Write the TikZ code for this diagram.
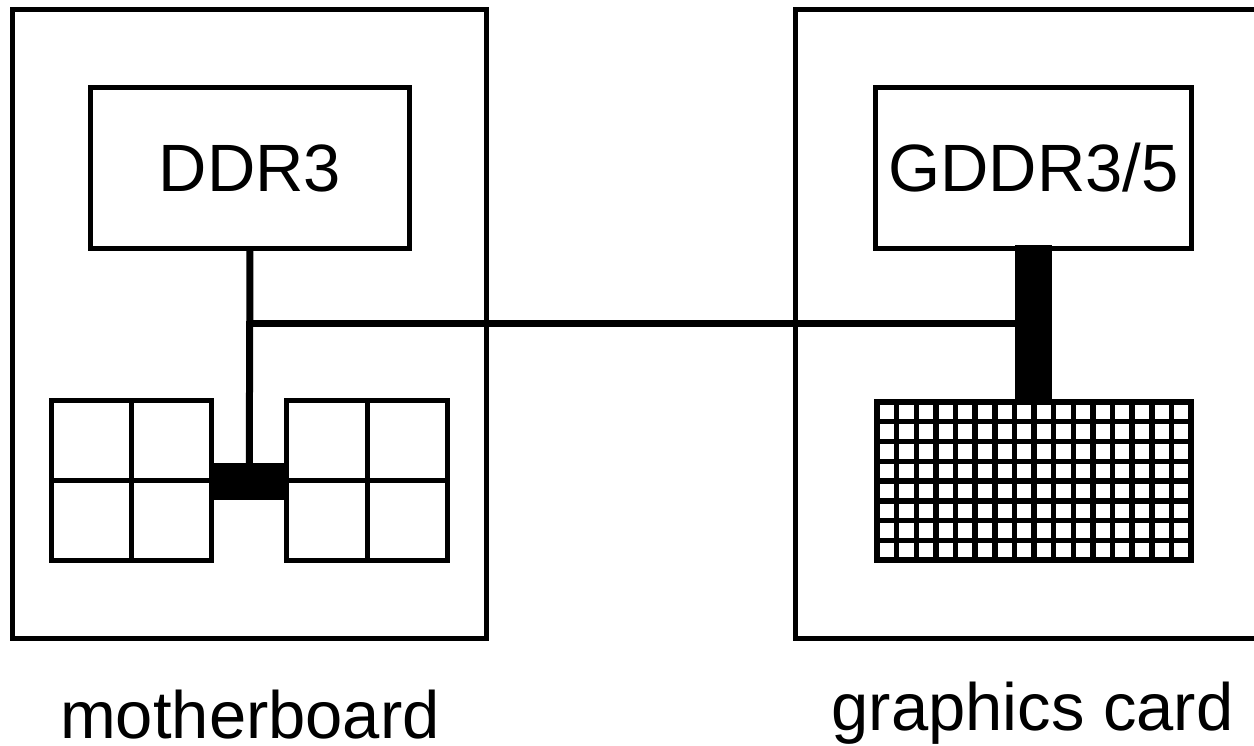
\documentclass[tikz,border=0pt]{standalone}
\usepackage{fontspec}
\setmainfont{Liberation Sans}
\begin{document}
\begin{tikzpicture}[x=0.02cm,y=-0.02cm,
  box/.style={draw, line width=0.1cm, inner sep=0pt, outer sep=0pt},
  cell/.style={line width=0.1cm},
  gline/.style={line width=0.11cm},
  wire/.style={line width=0.14cm},
  busbar/.style={fill=black, draw=none, inner sep=0pt, outer sep=0pt},
  big/.style={font=\fontsize{38.1}{40}\selectfont},
  caption/.style={big, inner sep=0pt, outer sep=0pt, anchor=base}]
\useasboundingbox (0,0) rectangle (1254,746);
\begin{scope}
\clip (0,0) rectangle (1254,746);
\node[box, minimum width=9.49cm, minimum height=12.59cm] (mb) at (249.75,324.25) {};
\node[box, minimum width=9.49cm, minimum height=12.59cm] (gc) at (1032.75,324.25) {};
\end{scope}
% memory boxes
\node[box, big, minimum width=6.38cm, minimum height=3.22cm] (ddr) at (250,168) {DDR3};
\node[box, big, minimum width=6.34cm, minimum height=3.22cm] (gddr) at (1033.5,168) {GDDR3/5};
% CPU blocks
\node[box, minimum width=3.22cm, minimum height=3.22cm] (c1) at (131.5,480.5) {};
\node[box, minimum width=3.23cm, minimum height=3.22cm] (c2) at (367.25,480.5) {};
\draw[cell] (c1.north) -- (c1.south) (c1.west) -- (c1.east);
\draw[cell] (c2.north) -- (c2.south) (c2.west) -- (c2.east);
\node[busbar, minimum width=1.49cm, minimum height=0.74cm] (bar) at (249.25,481.5) {};
% GPU grid
\node[draw, gline, inner sep=0pt, outer sep=0pt, minimum width=6.28cm, minimum height=3.16cm] (gpu) at (1034,481) {};
\foreach \i in {1,...,15} \draw[gline] (877+\i*19.625,402) -- (877+\i*19.625,560);
\foreach \j in {1,...,7} \draw[gline] (877,402+\j*19.75) -- (1191,402+\j*19.75);
\node[busbar, minimum width=0.74cm, minimum height=3.16cm] (gbar) at (1033.5,324) {};
% connectors
\coordinate (j) at (250,324);
\draw[wire] (ddr.south) -- (bar.north);
\draw[wire] (j) -- (gbar.west);
% labels
\node[caption] (l1) at (250,738) {motherboard};
\node[caption] (l2) at (1032.5,730) {graphics card};
\end{tikzpicture}
\end{document}
